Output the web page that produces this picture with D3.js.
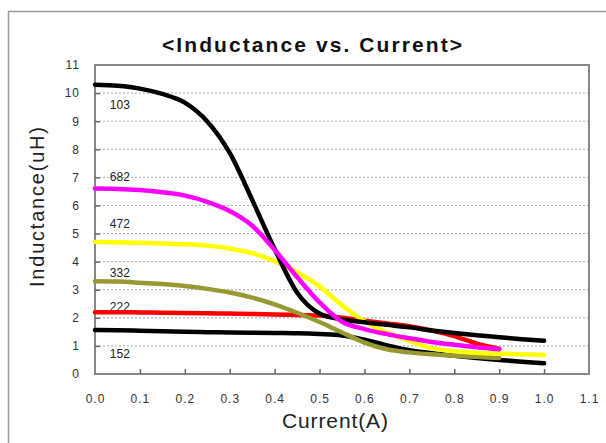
<!DOCTYPE html>
<html>
<head>
<meta charset="utf-8">
<title>Inductance vs. Current</title>
<script src="https://d3js.org/d3.v7.min.js"></script>
<style>
  body { margin: 0; background: #ffffff; }
  svg { font-family: "Liberation Sans", Arial, sans-serif; }
</style>
</head>
<body>
<div id="chart"></div>
<script>
// current (A) grid shared by all curves
const current = [0, 0.05, 0.1, 0.15, 0.2, 0.25, 0.3, 0.35, 0.4, 0.45, 0.5,
                 0.55, 0.6, 0.65, 0.7, 0.75, 0.8, 0.85, 0.9, 0.95, 1.0];
// inductance (uH), null = curve not drawn
const ind152 = [1.57, 1.56, 1.54, 1.52, 1.5, 1.49, 1.48, 1.47, 1.46, 1.45, 1.42,
                1.37, 1.22, 1.02, 0.85, 0.74, 0.65, 0.57, 0.5, 0.44, 0.38];
const ind222 = [2.2, 2.2, 2.19, 2.18, 2.17, 2.16, 2.15, 2.14, 2.12, 2.1, 2.08,
                2.0, 1.9, 1.8, 1.7, 1.55, 1.35, 1.08, 0.9, null, null];
const ind332 = [3.3, 3.29, 3.25, 3.2, 3.13, 3.03, 2.9, 2.72, 2.48, 2.18, 1.85,
                1.48, 1.12, 0.88, 0.77, 0.7, 0.65, 0.61, 0.57, null, null];
const ind472 = [4.7, 4.69, 4.67, 4.65, 4.62, 4.57, 4.47, 4.3, 4.02, 3.62, 3.12,
                2.45, 1.88, 1.48, 1.18, 0.92, 0.81, 0.76, 0.73, 0.7, 0.68];
const ind103 = [10.3, 10.26, 10.16, 9.97, 9.66, 8.99, 7.87, 6.2, 4.45, 2.9, 2.15,
                1.94, 1.84, 1.75, 1.66, 1.55, 1.46, 1.38, 1.31, 1.24, 1.18];
const ind682 = [6.6, 6.59, 6.55, 6.47, 6.35, 6.13, 5.8, 5.28, 4.42, 3.45, 2.55,
                1.86, 1.6, 1.42, 1.27, 1.14, 1.04, 0.95, 0.88, null, null];
const xTicks = [0, 0.1, 0.2, 0.3, 0.4, 0.5, 0.6, 0.7, 0.8, 0.9, 1.0, 1.1];
const yTicks = [0, 1, 2, 3, 4, 5, 6, 7, 8, 9, 10, 11];

// drawing order: first is at the bottom
const series = [
  {name: "152", values: ind152, color: "#000000", labelY: 0.57},
  {name: "222", values: ind222, color: "#ff0000", labelY: 2.24},
  {name: "332", values: ind332, color: "#999933", labelY: 3.45},
  {name: "472", values: ind472, color: "#ffff00", labelY: 5.2},
  {name: "103", values: ind103, color: "#000000", labelY: 9.42},
  {name: "682", values: ind682, color: "#ff00ff", labelY: 6.87}
];

const width = 606, height = 443;
const margin = {top: 65, right: 17, bottom: 69, left: 95};

const svg = d3.select("#chart").append("svg")
  .attr("width", width).attr("height", height);

const x = d3.scaleLinear().domain([0, 1.1]).range([margin.left, width - margin.right]);
const y = d3.scaleLinear().domain([0, 11]).range([height - margin.bottom, margin.top]);

// outer frame
svg.append("rect").attr("x", 8.5).attr("y", 11.5).attr("width", 640).attr("height", 460)
  .attr("fill", "none").attr("stroke", "#9a9a9a").attr("stroke-width", 1.5);

// title
svg.append("text").attr("x", 162).attr("y", 52)
  .attr("font-size", "21px").attr("font-weight", "bold").attr("fill", "#111")
  .attr("textLength", 300).attr("lengthAdjust", "spacing")
  .text("<Inductance vs. Current>");

// grid lines
svg.append("g").selectAll("line").data(yTicks.filter(d => d > 0 && d < 11)).join("line")
  .attr("x1", x(0)).attr("x2", x(1.1))
  .attr("y1", d => y(d)).attr("y2", d => y(d))
  .attr("stroke", "#a8a8b8").attr("stroke-width", 1).attr("stroke-dasharray", "2,2");

// plot frame
svg.append("rect").attr("x", x(0)).attr("y", y(11))
  .attr("width", x(1.1) - x(0)).attr("height", y(0) - y(11))
  .attr("fill", "none").attr("stroke", "#888888").attr("stroke-width", 2);

// axes with inward ticks
const xAxis = svg.append("g").attr("transform", `translate(0,${y(0)})`)
  .call(d3.axisBottom(x).tickValues(xTicks).tickFormat(d3.format(".1f"))
    .tickSizeInner(-5).tickSizeOuter(0).tickPadding(20));
const yAxis = svg.append("g").attr("transform", `translate(${x(0)},0)`)
  .call(d3.axisLeft(y).tickValues(yTicks).tickFormat(d3.format("d"))
    .tickSizeInner(-5).tickSizeOuter(0).tickPadding(15));
[xAxis, yAxis].forEach(g => {
  g.select(".domain").remove();
  g.selectAll(".tick line").attr("stroke", "#666").attr("stroke-width", 1.5);
  g.selectAll(".tick text").attr("font-size", "12px").attr("fill", "#333")
    .attr("letter-spacing", "1px")
    .attr("font-family", "Liberation Sans, Arial, sans-serif");
});
xAxis.selectAll(".tick").filter(d => d === 0 || d === 1.1).select("line").remove();
yAxis.selectAll(".tick").filter(d => d === 0 || d === 11).select("line").remove();

// axis titles
svg.append("text").attr("x", 282).attr("y", 428)
  .attr("font-size", "21px").attr("fill", "#222")
  .attr("textLength", 106).attr("lengthAdjust", "spacing").text("Current(A)");
svg.append("text").attr("transform", "translate(44,287) rotate(-90)")
  .attr("font-size", "20px").attr("fill", "#222")
  .attr("textLength", 160).attr("lengthAdjust", "spacing").text("Inductance(uH)");

// labels
svg.append("g").selectAll("text").data(series).join("text")
  .attr("x", x(0.033)).attr("y", d => y(d.labelY))
  .attr("font-size", "12px").attr("fill", "#222").text(d => d.name);

// curves
const line = d3.line()
  .defined(d => d[1] != null)
  .x(d => x(d[0])).y(d => y(d[1]))
  .curve(d3.curveMonotoneX);

svg.append("g").selectAll("path").data(series).join("path")
  .attr("d", d => line(current.map((c, i) => [c, d.values[i]])))
  .attr("fill", "none").attr("stroke", d => d.color)
  .attr("stroke-width", 4.5).attr("stroke-linecap", "round");
</script>
</body>
</html>
